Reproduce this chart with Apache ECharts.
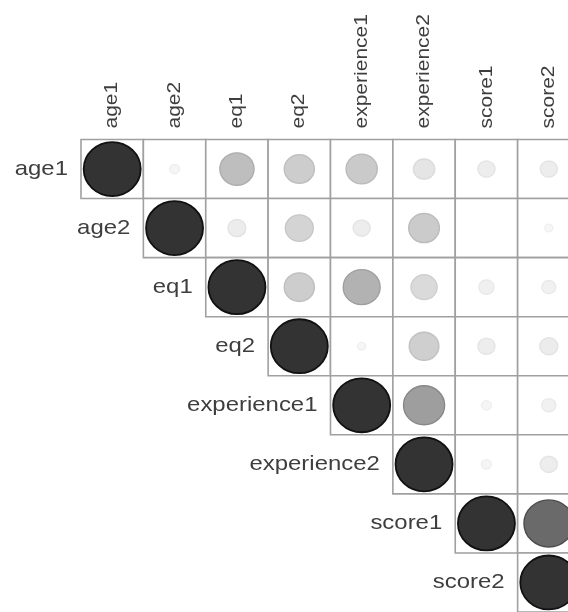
<!DOCTYPE html>
<html>
<head>
<meta charset="utf-8">
<script src="https://cdn.jsdelivr.net/npm/echarts@6/dist/echarts.min.js"></script>
<style>
  html, body { margin: 0; padding: 0; background: #ffffff; }
  #chart { width: 568px; height: 612px; }
</style>
</head>
<body>
<div id="chart"></div>
<script>
// Variables of the correlation matrix (same order on both axes)
const variables = ['age1', 'age2', 'eq1', 'eq2', 'experience1', 'experience2', 'score1', 'score2'];

// Upper triangle of the correlation matrix, one array per row,
// each starting at the diagonal
const corrAge1        = [1, 0.03, 0.36, 0.28, 0.30, 0.14, 0.09, 0.09];
const corrAge2        = [1, 0.10, 0.24, 0.09, 0.29, 0.00, 0.02];
const corrEq1         = [1, 0.28, 0.42, 0.21, 0.07, 0.06];
const corrEq2         = [1, 0.02, 0.27, 0.09, 0.10];
const corrExperience1 = [1, 0.52, 0.03, 0.06];
const corrExperience2 = [1, 0.03, 0.09];
const corrScore1      = [1, 0.76];
const corrScore2      = [1];

const upperRows = [corrAge1, corrAge2, corrEq1, corrEq2,
                   corrExperience1, corrExperience2, corrScore1, corrScore2];

// [column, row, r] triples for the upper triangle
const cells = [];
upperRows.forEach((row, i) => {
  row.forEach((r, k) => cells.push([i + k, i, r]));
});

// Grey level for a coefficient: near white for weak, dark grey at |r| = 1
function grey(r) {
  return Math.round(248 - 197 * Math.pow(Math.abs(r), 1.2));
}
function rgb(g) {
  g = Math.max(0, Math.min(255, Math.round(g)));
  return 'rgb(' + g + ',' + g + ',' + g + ')';
}

const textColor = '#3e3e3e';
const fontFamily = '"Liberation Sans", Arial, sans-serif';

const chart = echarts.init(document.getElementById('chart'), null, { renderer: 'canvas' });

chart.setOption({
  backgroundColor: '#ffffff',
  animation: false,
  grid: {
    left: 81, top: 139.5, width: 499, height: 472.5,
    containLabel: false,
    outerBoundsMode: 'none'
  },
  xAxis: {
    type: 'category',
    data: variables,
    position: 'top',
    show: false
  },
  yAxis: {
    type: 'category',
    data: variables,
    inverse: true,
    show: false
  },
  series: [
    {
      // cell frames of the upper triangle
      type: 'custom',
      coordinateSystem: 'cartesian2d',
      clip: false,
      data: cells,
      z: 1,
      renderItem: function (params, api) {
        const c = api.coord([api.value(0), api.value(1)]);
        const s = api.size([1, 1]);
        return {
          type: 'rect',
          shape: { x: c[0] - s[0] / 2, y: c[1] - s[1] / 2, width: s[0], height: s[1] },
          style: { fill: '#ffffff', stroke: '#a0a0a0', lineWidth: 1.6 }
        };
      }
    },
    {
      // circles: area proportional to |r|, darker for stronger correlation
      type: 'custom',
      coordinateSystem: 'cartesian2d',
      clip: false,
      data: cells,
      z: 3,
      renderItem: function (params, api) {
        const r = Math.abs(api.value(2));
        if (r < 0.005) {
          return null;
        }
        const c = api.coord([api.value(0), api.value(1)]);
        const s = api.size([1, 1]);
        const k = 0.914 * Math.sqrt(r);
        const g = grey(r);
        const edge = r >= 0.99 ? 17 : g - 6 - 30 * r;
        return {
          type: 'ellipse',
          shape: { cx: c[0], cy: c[1], rx: s[0] / 2 * k, ry: s[1] / 2 * k },
          style: { fill: rgb(g), stroke: rgb(edge), lineWidth: r >= 0.99 ? 1.8 : 1.4 }
        };
      }
    },
    {
      // row names placed next to the diagonal
      type: 'custom',
      coordinateSystem: 'cartesian2d',
      clip: false,
      data: variables.map((v, i) => [i, i]),
      z: 4,
      renderItem: function (params, api) {
        const i = api.value(0);
        const c = api.coord([i, api.value(1)]);
        const s = api.size([1, 1]);
        return {
          type: 'text',
          x: c[0] - s[0] / 2 - 13,
          y: c[1],
          scaleX: 1.14,
          scaleY: 0.95,
          style: {
            text: variables[i],
            fill: textColor,
            fontSize: 21,
            fontFamily: fontFamily,
            align: 'right',
            verticalAlign: 'middle'
          }
        };
      }
    },
    {
      // column names above the first row, reading upwards
      type: 'custom',
      coordinateSystem: 'cartesian2d',
      clip: false,
      data: variables.map((v, i) => [i, 0]),
      z: 4,
      renderItem: function (params, api) {
        const i = api.value(0);
        const c = api.coord([i, api.value(1)]);
        const s = api.size([1, 1]);
        return {
          type: 'text',
          x: c[0],
          y: c[1] - s[1] / 2 - 11,
          rotation: Math.PI / 2,
          scaleY: 0.88,
          style: {
            text: variables[i],
            fill: textColor,
            fontSize: 21,
            fontFamily: fontFamily,
            align: 'left',
            verticalAlign: 'middle'
          }
        };
      }
    }
  ]
});
</script>
</body>
</html>
